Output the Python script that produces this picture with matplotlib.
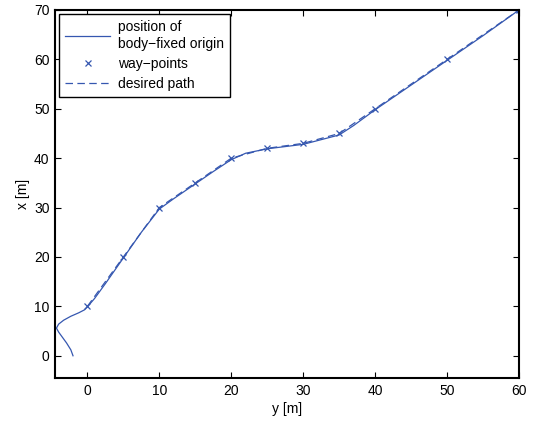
import matplotlib.pyplot as plt

plt.rcParams['font.family'] = ['Liberation Sans', 'DejaVu Sans']

# way-points (east y, north x)
wp_y = [0, 5, 10, 15, 20, 25, 30, 35, 40, 50, 60]
wp_x = [10, 20, 30, 35, 40, 42, 43, 45, 50, 60, 70]

# recorded position of the body-fixed origin
pos_y = [-2.0, -2.3, -2.9, -3.5, -4.0, -4.3, -4.0, -3.3, -2.3, -1.2, -0.4, 0.0,
         1.0, 2.5, 5.0, 7.5, 10.0, 12.0, 15.0, 17.5, 20.0, 22.0, 25.0, 30.0,
         35.0, 37.0, 40.0, 45.0, 50.0, 55.0, 60.0]
pos_x = [0.0, 1.2, 2.6, 3.8, 4.8, 5.6, 6.4, 7.2, 8.0, 8.7, 9.3, 9.9,
         11.6, 14.6, 19.8, 25.0, 29.7, 31.8, 34.8, 37.3, 39.7, 41.0, 41.9, 42.8,
         44.7, 46.6, 49.8, 54.8, 59.8, 64.8, 70.0]

blue = '#3557b0'

fig = plt.figure(figsize=(5.42, 4.25), dpi=100)
ax = fig.add_axes([0.1015, 0.1106, 0.8561, 0.8659])

ax.plot(pos_y, pos_x, '-', color=blue, lw=0.9, label='position of\nbody\u2212fixed origin')
ax.plot(wp_y, wp_x, 'x', color=blue, ms=5, mew=0.9, label='way\u2212points')
ax.plot(wp_y, wp_x, '--', color=blue, lw=0.9, dashes=(6, 3.5), label='desired path')

ax.set_xlim(-4.5, 60)
ax.set_ylim(-4.5, 70)
ax.set_xticks(range(0, 61, 10))
ax.set_yticks(range(0, 71, 10))
ax.tick_params(direction='in', top=True, right=True, labelsize=10, length=4, width=0.8, pad=4)
for s in ax.spines.values():
    s.set_linewidth(1.5)

ax.set_xlabel('y [m]', fontsize=10, labelpad=3)
ax.set_ylabel('x [m]', fontsize=10, labelpad=3)

leg = ax.legend(loc='upper left', fontsize=10, fancybox=False, framealpha=1,
                edgecolor='black', borderaxespad=0.3, handlelength=3.2,
                labelspacing=0.45, handletextpad=0.6, borderpad=0.45)
leg.get_frame().set_linewidth(1.0)

fig.savefig('out.png', dpi=100)
